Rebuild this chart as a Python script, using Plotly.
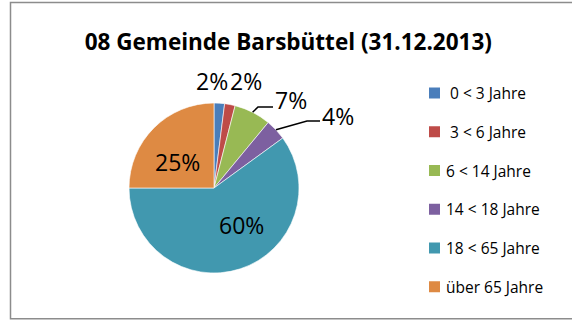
import math
import plotly.graph_objects as go

# Altersgruppen und Anteile in Prozent
age_groups = ["0 < 3 Jahre", "3 < 6 Jahre", "6 < 14 Jahre", "14 < 18 Jahre",
              "18 < 65 Jahre", "über 65 Jahre"]
shares = [2, 2, 7, 4, 60, 25]
legend_names = [" 0 < 3 Jahre", " 3 < 6 Jahre", "6 < 14 Jahre", "14 < 18 Jahre",
                "18 < 65 Jahre", "über 65 Jahre"]
colors = ["#4A7EBB", "#BE4B48", "#98B954", "#7D60A0", "#4198AF", "#DE8A43"]

W, H = 572, 320
CX, CY, R = 214, 188, 85  # pie centre and radius in pixels
FONT = "Open Sans"


def px(x):
    return x / W


def py(y):
    return 1 - y / H


fig = go.Figure()
fig.add_trace(go.Pie(
    labels=age_groups, values=shares, sort=False, direction="clockwise",
    rotation=0, marker=dict(colors=colors, line=dict(color="white", width=0.6)),
    textinfo="none", hoverinfo="label+percent", showlegend=False,
    domain=dict(x=[px(CX - R), px(CX + R)], y=[py(CY + R), py(CY - R)]),
))

# label placement (pixel positions) and optional elbow leader line
label_pos = [(212, 81), (246, 81), (291, 100), (338, 116), (241, 225), (177, 162)]
leader = [None, None, (258, 107, 273), (307, 121, 320), None, None]

total = sum(shares)
cum = 0
annotations = []
shapes = []
for v, pos, ld in zip(shares, label_pos, leader):
    mid = (cum + v / 2) / total * 2 * math.pi
    cum += v
    annotations.append(dict(
        x=px(pos[0]), y=py(pos[1]), xref="paper", yref="paper",
        text=f"{round(v / total * 100)}%", showarrow=False,
        font=dict(size=23, color="black", family=FONT),
        xanchor="center", yanchor="middle",
    ))
    if ld is not None:
        sx = CX + R * math.sin(mid)
        sy = CY - R * math.cos(mid)
        ex, ey, hx = ld
        shapes.append(dict(
            type="path", xref="paper", yref="paper",
            path=f"M {px(sx)},{py(sy)} L {px(ex)},{py(ey)} L {px(hx)},{py(ey)}",
            line=dict(color="black", width=1.5),
        ))

# legend: coloured squares with labels, one row per age group
LEG_X, LEG_Y0, LEG_STEP, SQ = 429, 93, 38.75, 11
for i, (name, col) in enumerate(zip(legend_names, colors)):
    yc = LEG_Y0 + i * LEG_STEP
    shapes.append(dict(
        type="rect", xref="paper", yref="paper",
        x0=px(LEG_X), x1=px(LEG_X + SQ), y0=py(yc + SQ / 2), y1=py(yc - SQ / 2),
        fillcolor=col, line=dict(width=0),
    ))
    annotations.append(dict(
        x=px(LEG_X + SQ + 4), y=py(yc), xref="paper", yref="paper",
        text=name.replace(" ", "&nbsp;", 1) if name.startswith(" ") else name,
        showarrow=False, xanchor="left", yanchor="middle",
        font=dict(size=15.5, color="black", family=FONT),
    ))

# outer chart frame
shapes.append(dict(type="rect", xref="paper", yref="paper",
                   x0=px(10.5), x1=px(580), y0=py(318.8), y1=py(2.5),
                   line=dict(color="#8C8C8C", width=1.5)))

fig.update_layout(
    width=W, height=H,
    margin=dict(l=0, r=0, t=0, b=0),
    paper_bgcolor="white", plot_bgcolor="white",
    title=dict(text="<b>08 Gemeinde Barsbüttel (31.12.2013)</b>",
               x=0.504, xanchor="center", y=py(42), yanchor="middle",
               font=dict(size=22.5, color="black", family=FONT)),
    showlegend=False,
    annotations=annotations, shapes=shapes,
)

fig.write_html("out.html")
